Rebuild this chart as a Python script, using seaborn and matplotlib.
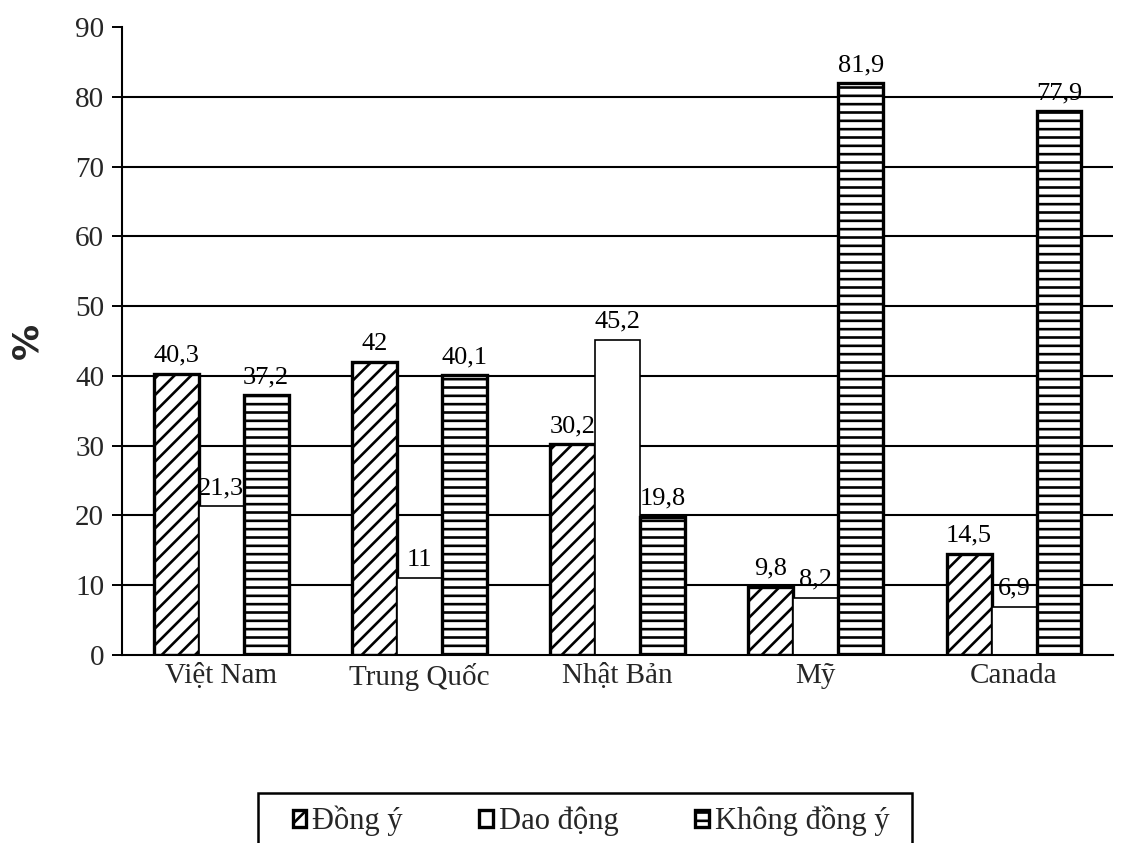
import matplotlib
matplotlib.use("Agg")
import matplotlib.pyplot as plt
import seaborn as sns
import pandas as pd
import numpy as np
from matplotlib.patches import Patch, Rectangle

countries = ["Việt Nam", "Trung Quốc", "Nhật Bản", "Mỹ", "Canada"]
series_names = ["Đồng ý", "Dao động", "Không đồng ý"]
dong_y = [40.3, 42, 30.2, 9.8, 14.5]
dao_dong = [21.3, 11, 45.2, 8.2, 6.9]
khong_dong_y = [37.2, 40.1, 19.8, 81.9, 77.9]

df = pd.DataFrame({
    "country": countries * 3,
    "group": [series_names[0]] * 5 + [series_names[1]] * 5 + [series_names[2]] * 5,
    "value": dong_y + dao_dong + khong_dong_y,
})

sns.set_theme(style="white")
plt.rcParams["font.family"] = ["Liberation Serif", "DejaVu Serif"]
plt.rcParams["hatch.linewidth"] = 1.9
plt.rcParams["hatch.color"] = "black"

fig = plt.figure(figsize=(11.21, 8.43), dpi=100)
ax = fig.add_axes([0.109, 0.223, 0.884, 0.745])

# horizontal gridlines behind the bars
for yv in range(10, 90, 10):
    ax.axhline(yv, color="black", lw=1.5, zorder=0)

sns.barplot(data=df, x="country", y="value", hue="group", order=countries,
            hue_order=series_names, width=0.68,
            palette=["white", "white", "white"], edgecolor="black",
            linewidth=2, legend=False, ax=ax, zorder=2)

hatches = ["//", "", "--"]
edge_w = [2.4, 1.2, 2.4]
for cont, h, lw in zip(ax.containers, hatches, edge_w):
    for bar in cont:
        bar.set_hatch(h)
        bar.set_linewidth(lw)
        bar.set_edgecolor("black")
        bar.set_facecolor("white")

def fmt(v):
    return f"{v:g}".replace(".", ",")

for cont in ax.containers:
    ax.bar_label(cont, labels=[fmt(b.get_height()) for b in cont],
                 padding=5, fontsize=19, color="black")

ax.set_ylim(0, 90)
ax.set_xlim(-0.5, 4.5)
ax.set_yticks(range(0, 91, 10))
ax.set_yticklabels([str(v) for v in range(0, 91, 10)], fontsize=21)
ax.set_xticks(range(5))
ax.set_xticklabels(countries, fontsize=21)
ax.set_xticks(np.arange(-0.5, 5.0, 1.0), minor=True)
ax.tick_params(axis="x", which="major", length=0, pad=6)
ax.tick_params(axis="x", which="minor", length=6, width=1.4, color="black", direction="out")
ax.tick_params(axis="y", length=7, width=1.4, color="black", direction="out", left=True, pad=6)
ax.set_xlabel("")
ax.set_ylabel("%", fontsize=26, fontweight="bold", family="DejaVu Sans", labelpad=22)

for side in ["top", "right"]:
    ax.spines[side].set_visible(False)
for side in ["left", "bottom"]:
    ax.spines[side].set_color("black")
    ax.spines[side].set_linewidth(1.5)

# legend entries, with a wide rectangular frame drawn around them
handles = [Patch(facecolor="white", edgecolor="black", hatch=h, linewidth=2.4)
           for h in ["//", "", "--"]]
leg = fig.legend(handles, series_names, loc="center left",
                 bbox_to_anchor=(0.261, 0.026), ncol=3, frameon=False,
                 fontsize=22, handlelength=0.45, handleheight=0.45,
                 handletextpad=0.2, columnspacing=2.5, borderpad=0,
                 borderaxespad=0)
fig.patches.append(Rectangle((0.2302, -0.05), 0.5834, 0.1093,
                             transform=fig.transFigure, fill=False,
                             edgecolor="black", linewidth=1.8))

fig.savefig("out.png", dpi=100, facecolor="white")
